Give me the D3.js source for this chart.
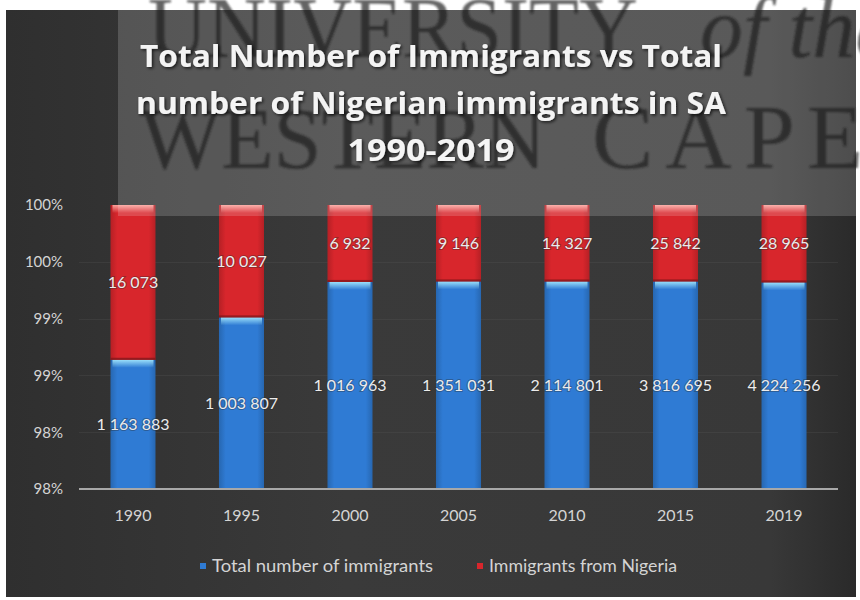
<!DOCTYPE html>
<html>
<head>
<meta charset="utf-8">
<script src="https://cdn.jsdelivr.net/npm/d3@7"></script>
<style>
  html, body { margin: 0; padding: 0; background: #ffffff; }
  svg { display: block; }
</style>
</head>
<body>
<svg id="chart" width="860" height="600"></svg>
<script>
// Immigrant counts in South Africa by year
const years = ["1990", "1995", "2000", "2005", "2010", "2015", "2019"];
const totalImmigrants = [1163883, 1003807, 1016963, 1351031, 2114801, 3816695, 4224256];
const nigerianImmigrants = [16073, 10027, 6932, 9146, 14327, 25842, 28965];
const seriesNames = ["Total number of immigrants", "Immigrants from Nigeria"];
const yTickValues = [0.975, 0.98, 0.985, 0.99, 0.995, 1.0];
const yTickLabels = ["98%", "98%", "99%", "99%", "100%", "100%"];
const titleLines = ["Total Number of Immigrants vs Total", "number of Nigerian immigrants in SA", "1990-2019"];

const W = 860, H = 600;
const svg = d3.select("#chart");
const defs = svg.append("defs");

const panel = { x: 6, y: 10, w: 850, h: 587 };
const plot = { left: 79, right: 838, top: 205, bottom: 489 };

// background panel
const bgGrad = defs.append("linearGradient").attr("id", "bgGrad").attr("x1", 0).attr("y1", 0).attr("x2", 1).attr("y2", 0);
bgGrad.append("stop").attr("offset", "0%").attr("stop-color", "#2f2f2f");
bgGrad.append("stop").attr("offset", "40%").attr("stop-color", "#3a3a3a");
bgGrad.append("stop").attr("offset", "90%").attr("stop-color", "#383838");
bgGrad.append("stop").attr("offset", "100%").attr("stop-color", "#2a2a2a");
svg.append("rect").attr("x", panel.x).attr("y", panel.y).attr("width", panel.w).attr("height", panel.h).attr("fill", "url(#bgGrad)");

const fontMain = "Lato, 'Open Sans', sans-serif";

// scales
const x = d3.scaleBand().domain(years).range([plot.left, plot.right]).paddingInner(0.585).paddingOuter(0.29);
const y = d3.scaleLinear().domain([0.975, 1.0]).range([plot.bottom, plot.top]).clamp(true);

// stacked shares (100% stack)
const rows = years.map((yr, i) => ({ year: yr, total: totalImmigrants[i], nigeria: nigerianImmigrants[i] }));
const stack = d3.stack().keys(["total", "nigeria"]).offset(d3.stackOffsetExpand);
const stacked = stack(rows);

// faint gridlines
svg.append("g").selectAll("line").data(yTickValues.slice(1, 5)).join("line")
  .attr("x1", plot.left).attr("x2", plot.right)
  .attr("y1", d => Math.round(y(d)) + 0.5).attr("y2", d => Math.round(y(d)) + 0.5)
  .attr("stroke", "#5c5c5c").attr("stroke-width", 1).attr("opacity", 0.25);

// bar fills
const colors = { total: "#2f7bd4", nigeria: "#d8262c" };
const hiColors = { total: "#a8ecff", nigeria: "#ffb0a8" };
["total", "nigeria"].forEach(k => {
  const g = defs.append("linearGradient").attr("id", "hl-" + k).attr("x1", 0).attr("y1", 0).attr("x2", 0).attr("y2", 1);
  g.append("stop").attr("offset", "0%").attr("stop-color", hiColors[k]).attr("stop-opacity", 0.9);
  g.append("stop").attr("offset", "100%").attr("stop-color", hiColors[k]).attr("stop-opacity", 0);
  const s = defs.append("linearGradient").attr("id", "side-" + k).attr("x1", 0).attr("y1", 0).attr("x2", 1).attr("y2", 0);
  s.append("stop").attr("offset", "0%").attr("stop-color", d3.color(colors[k]).darker(0.5));
  s.append("stop").attr("offset", "15%").attr("stop-color", colors[k]);
  s.append("stop").attr("offset", "85%").attr("stop-color", colors[k]);
  s.append("stop").attr("offset", "100%").attr("stop-color", d3.color(colors[k]).darker(0.5));
});

const barsG = svg.append("g");
stacked.forEach(layer => {
  const k = layer.key;
  const g = barsG.append("g");
  g.selectAll("rect.seg").data(layer).join("rect").attr("class", "seg")
    .attr("x", d => x(d.data.year))
    .attr("width", x.bandwidth())
    .attr("y", d => y(d[1]))
    .attr("height", d => y(d[0]) - y(d[1]))
    .attr("fill", `url(#side-${k})`);
  // glossy cap along the top edge of each segment
  g.selectAll("rect.hl").data(layer).join("rect").attr("class", "hl")
    .attr("x", d => x(d.data.year) + 2)
    .attr("width", x.bandwidth() - 4)
    .attr("y", d => y(d[1]))
    .attr("height", 8)
    .attr("fill", `url(#hl-${k})`);
});

// thin dark seam under the red segments
barsG.append("g").selectAll("rect").data(stacked[1]).join("rect")
  .attr("x", d => x(d.data.year)).attr("width", x.bandwidth())
  .attr("y", d => y(d[0]) - 2).attr("height", 2)
  .attr("fill", "#7a1518").attr("opacity", 0.7);

// value labels
const fmtNum = v => d3.format(",")(v).replace(/,/g, " ");
stacked.forEach(layer => {
  svg.append("g").selectAll("text").data(layer).join("text")
    .attr("x", d => x(d.data.year) + x.bandwidth() / 2)
    .attr("y", d => (y(d[0]) + y(d[1])) / 2)
    .attr("dy", "0.35em")
    .attr("text-anchor", "middle")
    .attr("font-family", fontMain)
    .attr("font-size", 16)
    .attr("fill", "#ececec")
    .style("paint-order", "stroke")
    .attr("stroke", "rgba(40,40,40,0.35)")
    .attr("stroke-width", 2)
    .text(d => fmtNum(d.data[layer.key]));
});

// axes
const xAxis = svg.append("g").attr("transform", `translate(0,${plot.bottom})`)
  .call(d3.axisBottom(x).tickSize(0).tickPadding(21));
xAxis.select(".domain").attr("stroke", "#a8a8a8").attr("stroke-width", 2)
  .attr("d", `M${plot.left},0H${plot.right}`);
xAxis.selectAll("text").attr("font-family", fontMain).attr("font-size", 16).attr("fill", "#d4d4d4");

const yAxis = svg.append("g").attr("transform", `translate(${plot.left},0)`)
  .call(d3.axisLeft(y).tickValues(yTickValues).tickFormat((d, i) => yTickLabels[i]).tickSize(0).tickPadding(16));
yAxis.select(".domain").remove();
yAxis.selectAll("text").attr("font-family", fontMain).attr("font-size", 15).attr("fill", "#d4d4d4");

// legend
const legend = svg.append("g").attr("transform", "translate(0,566)");
const legendItems = [
  { name: seriesNames[0], color: colors.total, x: 203, len: 221 },
  { name: seriesNames[1], color: colors.nigeria, x: 480, len: 188 }
];
legendItems.forEach(it => {
  legend.append("rect").attr("x", it.x - 3).attr("y", -3).attr("width", 6).attr("height", 6).attr("fill", it.color);
  legend.append("text").attr("x", it.x + 9).attr("y", 0).attr("dy", "0.35em")
    .attr("font-family", fontMain).attr("font-size", 18).attr("fill", "#d4d4d4")
    .attr("textLength", it.len).attr("lengthAdjust", "spacingAndGlyphs").text(it.name);
});

// light header band
svg.append("rect").attr("x", 118).attr("y", panel.y).attr("width", panel.x + panel.w - 118).attr("height", 216 - panel.y)
  .attr("fill", "#ffffff").attr("opacity", 0.17);

// faded crest lettering behind the title
defs.append("filter").attr("id", "soft").append("feGaussianBlur").attr("stdDeviation", 1.3);
defs.append("clipPath").attr("id", "wmClip").append("rect").attr("x", 118).attr("y", 0).attr("width", W - 118).attr("height", 216);
const wm = svg.append("g").attr("clip-path", "url(#wmClip)").append("g").attr("filter", "url(#soft)")
  .attr("fill", "#1c1c1c").attr("opacity", 0.68).attr("font-family", "'Liberation Serif', 'DejaVu Serif', serif");
wm.append("text").attr("x", 148).attr("y", 57).attr("font-size", 86)
  .attr("textLength", 490).attr("lengthAdjust", "spacingAndGlyphs").text("UNIVERSITY");
wm.append("text").attr("x", 700).attr("y", 57).attr("font-size", 86).attr("font-style", "italic").text("of the");
wm.append("text").attr("x", 140).attr("y", 168).attr("font-size", 86).text("WESTERN");
wm.append("text").attr("x", 592).attr("y", 168).attr("font-size", 92)
  .attr("letter-spacing", 12).text("CAPE");

// title
defs.append("filter").attr("id", "tshadow").append("feDropShadow")
  .attr("dx", 1.5).attr("dy", 1.5).attr("stdDeviation", 1.5).attr("flood-color", "#000").attr("flood-opacity", 0.7);
const title = svg.append("g").attr("filter", "url(#tshadow)");
const titleWidths = [582, 590, 167];
titleLines.forEach((line, i) => {
  title.append("text").attr("x", 431).attr("y", 67 + i * 47)
    .attr("text-anchor", "middle")
    .attr("font-family", "'Open Sans', Lato, sans-serif").attr("font-weight", "bold").attr("font-size", 31)
    .attr("fill", "#f4f4f4")
    .attr("textLength", titleWidths[i]).attr("lengthAdjust", "spacingAndGlyphs")
    .text(line);
});
</script>
</body>
</html>
